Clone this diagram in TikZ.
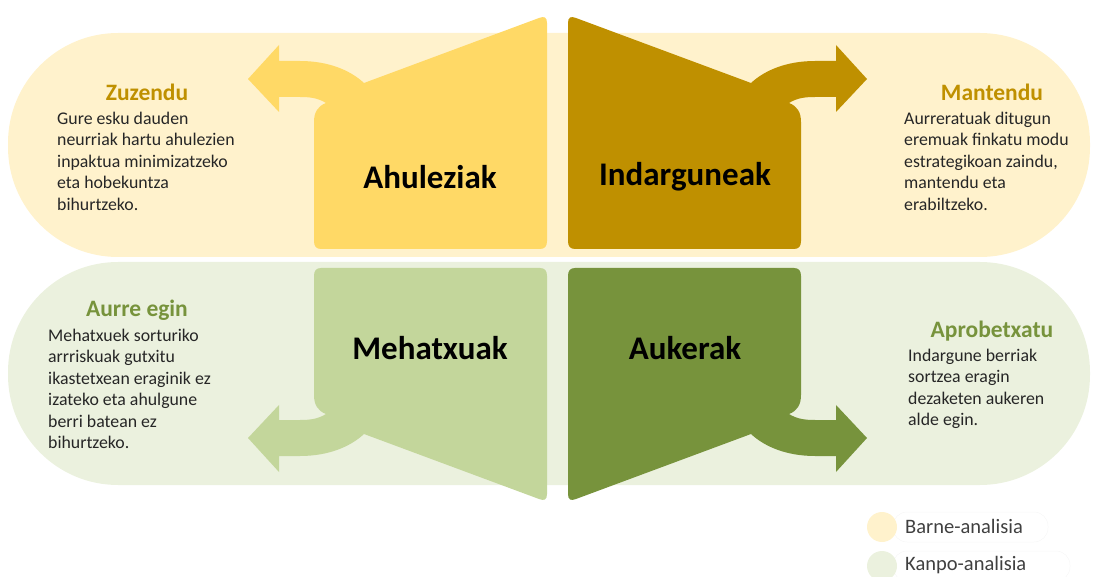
\documentclass[tikz,border=0pt]{standalone}
\usepackage{fontspec}
\setmainfont{Carlito}
\definecolor{bandY}{HTML}{FFF2CC}
\definecolor{bandG}{HTML}{EBF1DE}
\definecolor{ahuC}{HTML}{FFD966}
\definecolor{indC}{HTML}{BF9000}
\definecolor{mehC}{HTML}{C3D69B}
\definecolor{aukC}{HTML}{77933C}
\definecolor{txtC}{HTML}{262626}
\definecolor{legT}{HTML}{404040}
\newcommand{\swotpath}{(364,83) -- (539,18) .. controls (544,16) and (547,17) .. (547,23) -- (547,241) .. controls (547,246) and (545,249) .. (540,249) -- (321,249) .. controls (316,249) and (314,246) .. (314,241) -- (314,122) .. controls (314,112) and (318,106) .. (326,103) .. controls (318,98) and (310,97) .. (300,97) -- (279,97) -- (279,112) -- (248,79) -- (279,45) -- (279,61) -- (300,61) .. controls (328,61) and (350,70) .. (364,83) -- cycle}
\begin{document}
\begin{tikzpicture}[x=1pt,y=-1pt,
  titlebox/.style={font=\fontsize{23.5}{28}\selectfont\bfseries, inner sep=0},
  bodytext/.style={font=\fontsize{17.8}{21.5}\selectfont, text=txtC, align=left, anchor=west, inner sep=0},
  bigname/.style={font=\fontsize{33}{39}\selectfont\bfseries, text=black, inner sep=0},
  legtext/.style={font=\fontsize{20.5}{24}\selectfont, text=legT, anchor=west, inner sep=0},
  legframe/.style={draw=black!3, line width=0.5pt, rounded corners=14}]
\useasboundingbox (0,0) rectangle (1093,577);
% bands
\fill[bandY, rounded corners=110] (8,33) rectangle (1090,257);
\fill[bandG, rounded corners=110] (8,262) rectangle (1090,485);
% shapes
\fill[ahuC] \swotpath;
\begin{scope}[shift={(1115,0)}, xscale=-1]
  \fill[indC] \swotpath;
\end{scope}
\begin{scope}[shift={(0,517)}, yscale=-1]
  \fill[mehC] \swotpath;
\end{scope}
\begin{scope}[shift={(1115,517)}, xscale=-1, yscale=-1]
  \fill[aukC] \swotpath;
\end{scope}
% big labels
\node[bigname] (ahu) at (430,177) {Ahuleziak};
\node[bigname] (ind) at (685,177) {Indarguneak};
\node[bigname] (meh) at (430,348) {Mehatxuak};
\node[bigname] (auk) at (685,348) {Aukerak};
% side texts
\node[titlebox, text=indC] (zuz) at (147,92) {Zuzendu};
\node[bodytext] (zuzb) at (57,161) {Gure esku dauden\\neurriak hartu ahulezien\\inpaktua minimizatzeko\\eta hobekuntza\\bihurtzeko.};
\node[titlebox, text=indC] (man) at (992,92) {Mantendu};
\node[bodytext] (manb) at (904,161) {Aurreratuak ditugun\\eremuak finkatu modu\\estrategikoan zaindu,\\mantendu eta\\erabiltzeko.};
\node[titlebox, text=aukC] (aur) at (137,310) {Aurre egin};
\node[bodytext] (aurb) at (48,389) {Mehatxuek sorturiko\\arrriskuak gutxitu\\ikastetxean eraginik ez\\izateko eta ahulgune\\berri batean ez\\bihurtzeko.};
\node[titlebox, text=aukC] (apr) at (992,331) {Aprobetxatu};
\node[bodytext] (aprb) at (908,389) {Indargune berriak\\sortzea eragin\\dezaketen aukeren\\alde egin.};
% legend
\draw[legframe] (893,512) rectangle (1048,542);
\draw[legframe] (893,551) rectangle (1070,581);
\fill[bandY] (882,527) circle (15);
\fill[bandG] (882,566) circle (15);
\node[legtext] (l1) at (905,526) {Barne-analisia};
\node[legtext] (l2) at (905,565) {Kanpo-analisia};
\end{tikzpicture}
\end{document}
